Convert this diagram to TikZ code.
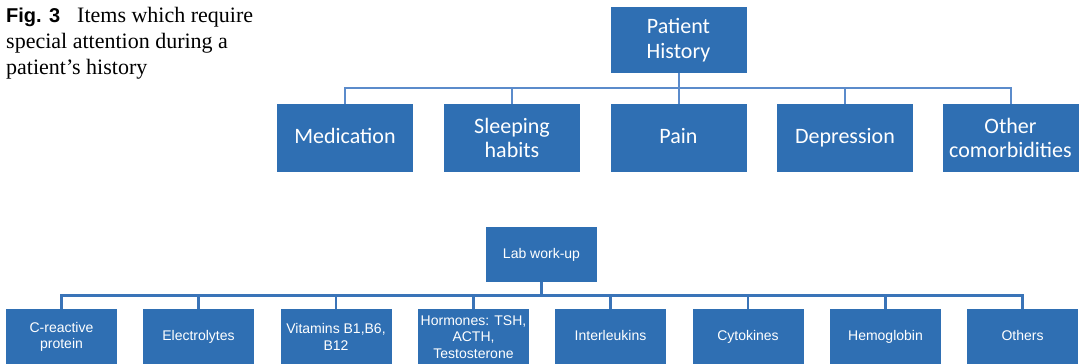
\documentclass[tikz,border=0pt]{standalone}
\usepackage{fontspec}
\setmainfont{Liberation Serif}
\newfontfamily\capsans{Liberation Sans}
\newfontfamily\calib{Carlito}
\newfontfamily\arialish{Liberation Sans}

\definecolor{boxblue}{HTML}{2F6FB3}
\definecolor{toplink}{HTML}{5B8BCB}
\definecolor{botlink}{HTML}{3A74B8}

% keeps single-line labels on a common baseline
\newcommand{\lineph}{\vphantom{Ap}}

\tikzset{
  topbox/.style={fill=boxblue, draw=none, inner sep=0pt, text=white,
    minimum width=136pt, minimum height=68pt, align=center,
    font=\calib\fontsize{22}{24.5}\selectfont},
  labbox/.style={fill=boxblue, draw=none, inner sep=0pt, text=white,
    minimum width=111pt, minimum height=56pt, align=center,
    font=\arialish\fontsize{14}{16.5}\selectfont},
  topline/.style={draw=toplink, line width=2pt},
  botline/.style={draw=botlink, line width=2.3pt},
  captext/.style={anchor=base west, inner sep=0pt, font=\fontsize{22}{25.7}\selectfont}
}

\begin{document}
\begin{tikzpicture}[x=1pt,y=-1pt]
  \useasboundingbox (0,0) rectangle (1080,364);
  \clip (0,0) rectangle (1080,364);

  % caption
  \node[anchor=base west, inner sep=0pt, font=\capsans\bfseries\fontsize{20}{24}\selectfont] (fig) at (6,22.7) {Fig. 3};
  \node[captext] (cap1) at (77,22.7) {Items which require};
  \node[captext] (cap2) at (6,48.3) {special attention during a};
  \node[captext] (cap3) at (6,74) {patient’s history};

  % patient history tree
  \coordinate (tbus) at (0,88);
  \node[topbox, minimum height=66pt] (ph) at (678.5,40) {Patient\\History};
  \node[topbox] (med) at (345,138) {\lineph Medication};
  \node[topbox] (slp) at (512,138) {Sleeping\\habits};
  \node[topbox] (pain) at (678.5,138) {\lineph Pain};
  \node[topbox] (dep) at (845,138) {\lineph Depression};
  \node[topbox] (oth) at (1010.5,138) {Other\\comorbidities};

  \draw[topline] (ph.south) -- (ph.south |- tbus);
  \draw[topline] (med.north) -- (med.north |- tbus) -- (oth.north |- tbus) -- (oth.north);
  \foreach \c in {slp,pain,dep}
    \draw[topline] (\c.north) -- (\c.north |- tbus);

  % lab work-up tree
  \coordinate (bbus) at (0,295.5);
  \node[labbox, minimum height=55pt] (lab) at (541.5,254.5) {\lineph Lab work-up};
  \node[labbox] (crp) at (61.5,337) {C-reactive\\protein};
  \node[labbox] (ele) at (198.5,337) {\lineph Electrolytes};
  \node[labbox] (vit) at (336,337) {Vitamins B1,B6,\\B12};
  \node[labbox] (hor) at (473.5,337) {Hormones: TSH,\\ACTH,\\Testosterone};
  \node[labbox] (il) at (610.5,337) {\lineph Interleukins};
  \node[labbox] (cyt) at (748,337) {\lineph Cytokines};
  \node[labbox] (hem) at (885.5,337) {\lineph Hemoglobin};
  \node[labbox] (ots) at (1022.5,337) {\lineph Others};

  \draw[botline] (lab.south) -- (lab.south |- bbus);
  \draw[botline] (crp.north) -- (crp.north |- bbus) -- (ots.north |- bbus) -- (ots.north);
  \foreach \c in {ele,vit,hor,il,cyt,hem}
    \draw[botline] (\c.north) -- (\c.north |- bbus);
\end{tikzpicture}
\end{document}
